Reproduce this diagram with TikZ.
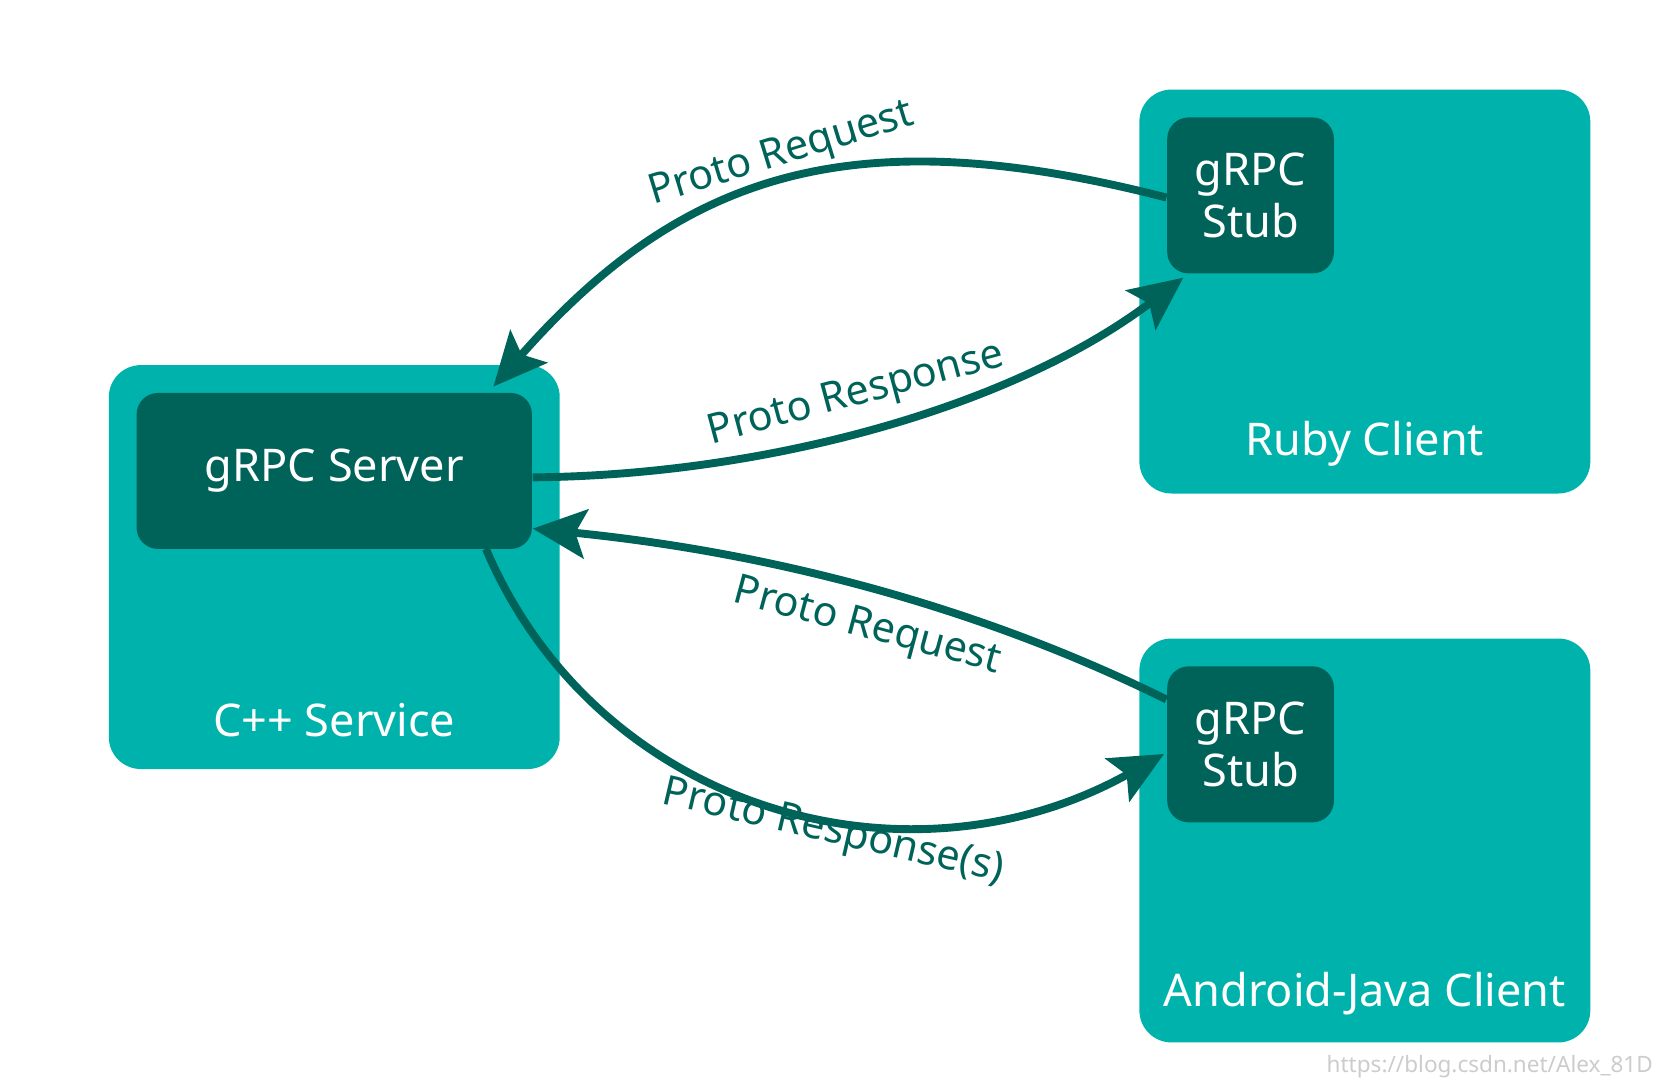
\documentclass[tikz,border=0pt]{standalone}
\usepackage{fontspec}
\setmainfont{Noto Sans}
\usetikzlibrary{arrows.meta}
\definecolor{tealbox}{HTML}{00B2AC}
\definecolor{tealdark}{HTML}{00635A}
\begin{document}
\begin{tikzpicture}[x=0.01cm,y=-0.01cm,
   outer/.style={draw=none, fill=tealbox, rounded corners=3mm, inner sep=0pt},
   inner/.style={fill=tealdark, rounded corners=2mm, text=white, font=\fontsize{12}{14}\selectfont, align=center, inner sep=0pt},
   title/.style={text=white, font=\fontsize{12}{14}\selectfont},
   flow/.style={draw=tealdark, line width=2.1pt, -{Stealth[length=5mm,width=4.6mm,inset=1mm]}},
   msg/.style={text=tealdark, font=\fontsize{11}{13}\selectfont}]

\useasboundingbox (0,0) rectangle (1560,1022);

% boxes
\node[outer, minimum width=4.22cm, minimum height=3.78cm] (cpp) at (313,531) {};
\node[outer, minimum width=4.22cm, minimum height=3.78cm] (ruby) at (1278,273) {};
\node[outer, minimum width=4.22cm, minimum height=3.78cm] (android) at (1278,787) {};

\node[inner, minimum width=3.70cm, minimum height=1.46cm] (server) at (313,441) {gRPC Server};
\node[inner, minimum width=1.56cm, minimum height=1.46cm] (stubr) at (1171,183) {gRPC\\Stub};
\node[inner, minimum width=1.56cm, minimum height=1.46cm] (stuba) at (1171,697) {gRPC\\Stub};

\node[title] (cppt) at (313,674) {C++ Service};
\node[title] (rubyt) at (1278,416) {Ruby Client};
\node[title] (androidt) at (1278,930) {Android-Java Client};

% calls
\coordinate (srvtop) at (462,362);
\draw[flow] (stubr.west|-0,185) .. controls (800,110) and (640,160) .. (srvtop);
\draw[flow] (server.east|-0,447) .. controls (720,445) and (950,380) .. (1108,260);
\draw[flow] (stuba.west|-0,655) .. controls (900,560) and (700,515) .. (server.east|-0,495);
\draw[flow] (455,514) .. controls (560,760) and (850,840) .. (1090,706);

\node[msg, rotate=17] (req1) at (732,145) {Proto Request};
\node[msg, rotate=15] (res1) at (802,370) {Proto Response};
\node[msg, rotate=-15] (req2) at (812,588) {Proto Request};
\node[msg, rotate=-13] (res2) at (780,780) {Proto Response(s)};

\node[text=black!20, font=\fontsize{6}{7}\selectfont, anchor=south east] (mark) at (1560,1022) {https://blog.csdn.net/Alex\_81D};
\end{tikzpicture}
\end{document}
